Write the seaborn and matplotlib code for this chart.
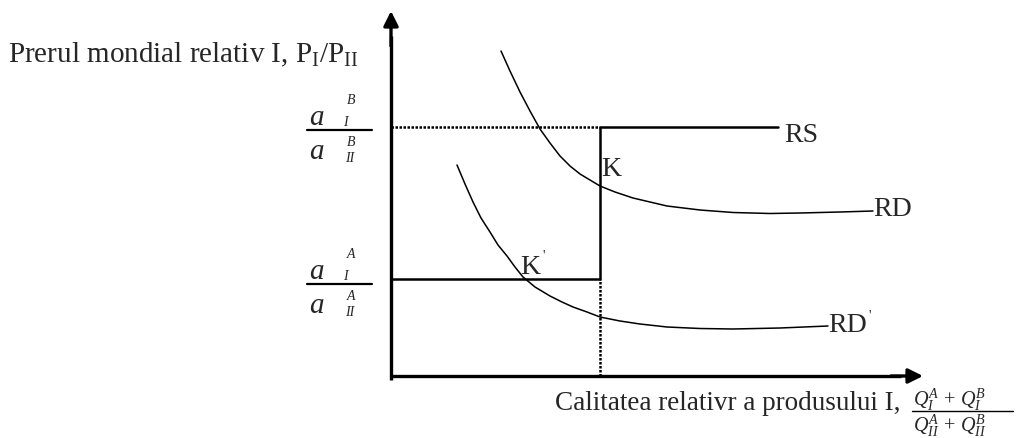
import matplotlib
matplotlib.use("Agg")
import matplotlib.pyplot as plt
import seaborn as sns
import pandas as pd

# ---- data (chart units, origin at the axes corner) ----
rd_x = [110, 119, 129, 139, 149, 159, 169, 179, 189, 199, 209, 224, 242, 259, 276,
        309, 342, 379, 409, 449, 482]
rd_y = [325, 305, 284, 265, 247, 233, 220, 210, 202, 196, 190, 184, 178, 174, 170,
        166, 163.5, 162.5, 163, 164, 165]
rdp_x = [66, 74, 82, 90, 99, 107, 116, 124, 132, 144, 159, 171, 182, 196, 209, 229,
         249, 276, 309, 342, 389, 437]
rdp_y = [211, 192, 174, 158, 144, 131, 120, 109, 99, 89, 80, 74, 69, 64, 59, 55,
         52, 49, 47.5, 47, 48, 50]
ratio_b = 249      # a_I^B / a_II^B
ratio_a = 97       # a_I^A / a_II^A
q_switch = 209     # relative quantity at the vertical segment of RS
rs_end = 387
y_label = "Prerul mondial relativ I, "
x_label = "Calitatea relativr a produsului I, "

sns.set_style("white")
plt.rcParams["font.family"] = ["Liberation Serif", "DejaVu Serif"]
plt.rcParams["mathtext.fontset"] = "custom"
plt.rcParams["mathtext.rm"] = "Liberation Serif"
plt.rcParams["mathtext.it"] = "Liberation Serif:italic"

fig = plt.figure(figsize=(10.16, 4.39), dpi=100)
ax = fig.add_axes([0, 0, 1, 1])
ax.set_xlim(-391, 625)
ax.set_ylim(-62, 377)
ax.axis("off")

# demand curves
sns.lineplot(x=rd_x, y=rd_y, sort=False, estimator=None, color="black", lw=1.1, ax=ax)
sns.lineplot(x=rdp_x, y=rdp_y, sort=False, estimator=None, color="black", lw=1.1, ax=ax)

# relative supply (solid)
rs = pd.DataFrame({"x": [0, q_switch, q_switch, rs_end],
                   "y": [ratio_a, ratio_a, ratio_b, ratio_b]})
sns.lineplot(data=rs, x="x", y="y", sort=False, estimator=None, color="black",
             lw=1.8, ax=ax)
# dotted guides
ax.plot([0, q_switch], [ratio_b, ratio_b], color="black", lw=1.8, ls=(0, (1, 0.6)))
ax.plot([q_switch, q_switch], [0, ratio_a], color="black", lw=1.8, ls=(0, (1, 0.6)))

# axes with arrows
ax.plot([0, 0], [-4, 340], color="black", lw=2.4, solid_capstyle="butt")
ax.plot([0, 510], [0, 0], color="black", lw=2.4, solid_capstyle="butt")
ax.annotate("", xy=(0, 365), xytext=(0, 330),
            arrowprops=dict(arrowstyle="-|>", lw=2.4, color="black", mutation_scale=22,
                            shrinkA=0, shrinkB=0))
ax.annotate("", xy=(532, 0), xytext=(500, 0),
            arrowprops=dict(arrowstyle="-|>", lw=2.4, color="black", mutation_scale=22,
                            shrinkA=0, shrinkB=0))

# axis labels
ax.text(-383, 322, y_label + r"$\mathregular{P_{I}/P_{II}}$", fontsize=21,
        ha="left", va="center")
ax.text(164, -27, x_label, fontsize=19.5, ha="left", va="center")
ax.text(522, -23, r"$Q_{I}^{A}\,+\,Q_{I}^{B}$", fontsize=14.5, ha="left", va="center")
ax.plot([521, 622], [-35, -35], color="black", lw=1.0)
ax.text(522, -49, r"$Q_{II}^{A}\,+\,Q_{II}^{B}$", fontsize=14.5, ha="left", va="center")

# y-axis fraction labels
def frac(ycenter, sup):
    ax.plot([-84, -19], [ycenter, ycenter], color="black", lw=1.6)
    ax.text(-82, ycenter + 13, "a", fontsize=21, style="italic", ha="left", va="center")
    ax.text(-44, ycenter + 30, sup, fontsize=10, style="italic", ha="left", va="center")
    ax.text(-48, ycenter + 8, "I", fontsize=10, style="italic", ha="left", va="center")
    ax.text(-82, ycenter - 21, "a", fontsize=21, style="italic", ha="left", va="center")
    ax.text(-44, ycenter - 12, sup, fontsize=10, style="italic", ha="left", va="center")
    ax.text(-46, ycenter - 28, "II", fontsize=10, style="italic", ha="left", va="center")

frac(ratio_b - 3, "B")
frac(ratio_a - 5, "A")

# curve / point labels
ax.text(rs_end + 6, ratio_b - 8, "RS", fontsize=20, ha="left", va="center")
ax.text(rd_x[-1], rd_y[-1] + 2, "RD", fontsize=20, ha="left", va="center")
ax.text(rdp_x[-1], rdp_y[-1] + 2, "RD", fontsize=20, ha="left", va="center")
ax.text(rdp_x[-1] + 40, rdp_y[-1] + 11, "'", fontsize=10, ha="left", va="center")
ax.text(q_switch + 1, 207, "K", fontsize=20, ha="left", va="center")
ax.text(129, 110, "K", fontsize=20, ha="left", va="center")
ax.text(151, 121, "'", fontsize=10, ha="left", va="center")

fig.savefig("out.png", dpi=100)
